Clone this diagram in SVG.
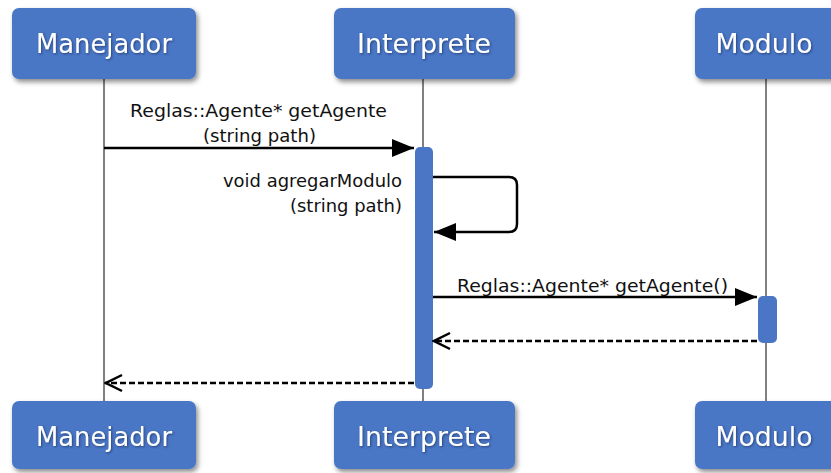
<svg xmlns="http://www.w3.org/2000/svg" width="831" height="473" viewBox="0 0 831 473">
<defs>
<filter id="sh" x="-20%" y="-20%" width="140%" height="150%">
<feDropShadow dx="2" dy="3" stdDeviation="2.5" flood-color="#000" flood-opacity="0.45"/>
</filter>
<filter id="tsh" x="-10%" y="-30%" width="120%" height="160%">
<feDropShadow dx="1" dy="1" stdDeviation="0.8" flood-color="#1a2f5a" flood-opacity="0.7"/>
</filter>
<marker id="fill" viewBox="0 0 22 18" refX="22" refY="9" markerWidth="22" markerHeight="18" markerUnits="userSpaceOnUse" orient="auto">
<path d="M0,0 L22,9 L0,18 Z" fill="#000"/>
</marker>
<marker id="open" viewBox="0 0 20 20" refX="19" refY="10" markerWidth="20" markerHeight="20" markerUnits="userSpaceOnUse" orient="auto">
<path d="M2,2 L18,10 L2,18" fill="none" stroke="#000" stroke-width="2.5"/>
</marker>
</defs>
<style>
.box{fill:#4a76c5;filter:url(#sh)}
.bar{fill:#4a76c5}
.name{font-family:"DejaVu Sans",sans-serif;font-size:27px;fill:#fff;text-anchor:middle;filter:url(#tsh)}
.life{stroke:#808080;stroke-width:2}
.lbl{font-family:"DejaVu Sans",sans-serif;font-size:17px;fill:#111}
.msg{stroke:#000;stroke-width:2.5;fill:none}
.ret{stroke:#000;stroke-width:2.5;fill:none;stroke-dasharray:6,3}
</style>
<rect width="831" height="473" fill="#fff"/>
<g id="lifelines">
<line class="life" x1="104" y1="78" x2="104" y2="402"/>
<line class="life" x1="423" y1="78" x2="423" y2="402"/>
<line class="life" x1="766" y1="78" x2="766" y2="402"/>
</g>
<g id="manejador-top"><rect class="box" x="12" y="8" width="184" height="71" rx="7"/><text class="name" x="104" y="53" textLength="136" lengthAdjust="spacingAndGlyphs">Manejador</text></g>
<g id="interprete-top"><rect class="box" x="334" y="8" width="181" height="71" rx="7"/><text class="name" x="424" y="53" textLength="134" lengthAdjust="spacingAndGlyphs">Interprete</text></g>
<g id="modulo-top"><rect class="box" x="695" y="8" width="145" height="71" rx="7"/><text class="name" x="764" y="53" textLength="97" lengthAdjust="spacingAndGlyphs">Modulo</text></g>
<g id="manejador-bottom"><rect class="box" x="12" y="401" width="184" height="68" rx="7"/><text class="name" x="104" y="446" textLength="136" lengthAdjust="spacingAndGlyphs">Manejador</text></g>
<g id="interprete-bottom"><rect class="box" x="334" y="401" width="181" height="68" rx="7"/><text class="name" x="424" y="446" textLength="134" lengthAdjust="spacingAndGlyphs">Interprete</text></g>
<g id="modulo-bottom"><rect class="box" x="695" y="401" width="145" height="68" rx="7"/><text class="name" x="764" y="446" textLength="97" lengthAdjust="spacingAndGlyphs">Modulo</text></g>
<g id="interprete-activation"><rect class="bar" x="415" y="147" width="18" height="242" rx="5"/></g>
<g id="modulo-activation"><rect class="bar" x="758" y="296" width="19" height="47" rx="5"/></g>
<g id="connectors">
<line class="msg" x1="104" y1="148" x2="414" y2="148" marker-end="url(#fill)"/>
<path class="msg" d="M433,177 H509 Q517,177 517,185 V224 Q517,232 509,232 H434" marker-end="url(#fill)"/>
<line class="msg" x1="433" y1="297" x2="757" y2="297" marker-end="url(#fill)"/>
<line class="ret" x1="757" y1="341" x2="433" y2="341" marker-end="url(#open)"/>
<line class="ret" x1="414" y1="383" x2="105" y2="383" marker-end="url(#open)"/>
</g>
<g id="labels">
<text class="lbl" x="130" y="117" textLength="257" lengthAdjust="spacingAndGlyphs">Reglas::Agente* getAgente</text>
<text class="lbl" x="203" y="142" textLength="113" lengthAdjust="spacingAndGlyphs">(string path)</text>
<text class="lbl" x="223" y="187" textLength="179" lengthAdjust="spacingAndGlyphs">void agregarModulo</text>
<text class="lbl" x="290" y="212" textLength="112" lengthAdjust="spacingAndGlyphs">(string path)</text>
<text class="lbl" x="457" y="292" textLength="271" lengthAdjust="spacingAndGlyphs">Reglas::Agente* getAgente()</text>
</g>
</svg>
